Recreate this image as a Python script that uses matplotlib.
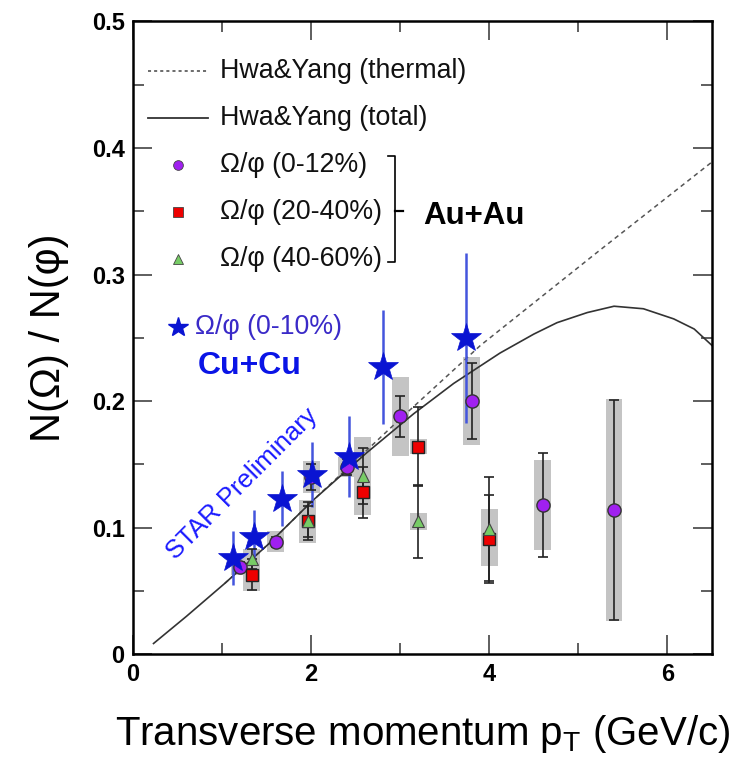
import matplotlib
matplotlib.use("Agg")
import matplotlib.pyplot as plt
from matplotlib.patches import Rectangle

plt.rcParams["font.family"] = ["Liberation Sans", "DejaVu Sans"]

# -------------------------
# Data
# -------------------------
# Au+Au 0-12%
c_x = [1.2, 1.6, 2.0, 2.4, 3.0, 3.8, 4.6, 5.4]
c_y = [0.069, 0.089, 0.140, 0.148, 0.188, 0.200, 0.118, 0.114]
c_stat = [0.004, 0.004, 0.010, 0.006, 0.016, 0.030, 0.041, 0.087]
c_sys = [0.006, 0.008, 0.0125, 0.008, 0.031, 0.035, 0.0355, 0.088]

# Au+Au 20-40%
s_x = [1.33, 1.96, 2.58, 3.2, 4.0]
s_y = [0.063, 0.105, 0.128, 0.164, 0.091]
s_stat = [0.012, 0.015, 0.020, 0.031, 0.035]
s_sys = [0.013, 0.017, 0.018, 0.006, 0.021]

# Au+Au 40-60%
t_x = [1.33, 1.96, 2.58, 3.2, 4.0]
t_y = [0.075, 0.105, 0.141, 0.105, 0.099]
t_stat = [0.008, 0.012, 0.022, 0.029, 0.041]
t_sys = [0.008, 0.015, 0.031, 0.007, 0.016]

# Cu+Cu 0-10%
cu_x = [1.12, 1.36, 1.67, 2.01, 2.42, 2.81, 3.74]
cu_y = [0.076, 0.093, 0.123, 0.142, 0.156, 0.227, 0.250]
cu_err = [0.021, 0.021, 0.022, 0.026, 0.032, 0.045, 0.067]

# Hwa & Yang curves
tot_x = [0.23, 0.6, 1.03, 1.52, 2.01, 2.62, 3.15, 3.6, 4.12, 4.5, 4.76, 5.1, 5.4, 5.73, 6.07, 6.3, 6.5]
tot_y = [0.0085, 0.030, 0.056, 0.087, 0.121, 0.159, 0.190, 0.214, 0.238, 0.253, 0.262, 0.270, 0.275, 0.273, 0.265, 0.257, 0.244]
th_x = [1.03, 1.52, 2.01, 2.5, 3.0, 3.9, 5.2, 6.5]
th_y = [0.056, 0.087, 0.121, 0.153, 0.186, 0.244, 0.317, 0.389]

box_w = 0.19
box_col = "#c4c4c4"

# -------------------------
# Plot
# -------------------------
fig = plt.figure(figsize=(7.31, 7.67), dpi=100)
ax = fig.add_axes([0.182, 0.147, 0.792, 0.825])

for xs, ys, sy in [(c_x, c_y, c_sys), (s_x, s_y, s_sys), (t_x, t_y, t_sys)]:
    for x, y, e in zip(xs, ys, sy):
        ax.add_patch(Rectangle((x - box_w / 2, y - e), box_w, 2 * e,
                               facecolor=box_col, edgecolor="none", zorder=1))

ax.plot(th_x, th_y, color="#555555", lw=1.1, ls=(0, (3, 2.5)), zorder=2)
ax.plot(tot_x, tot_y, color="#333333", lw=1.2, zorder=2)

ax.errorbar(cu_x, cu_y, yerr=cu_err, fmt="none", ecolor="#4455dd", elinewidth=1.8, zorder=3)

for xs, ys, st in [(c_x, c_y, c_stat), (s_x, s_y, s_stat), (t_x, t_y, t_stat)]:
    ax.errorbar(xs, ys, yerr=st, fmt="none", ecolor="#222222", elinewidth=1.2,
                capsize=3.5, capthick=1.2, zorder=3)

ax.plot(c_x, c_y, "o", ms=9.5, mfc="#a020f0", mec="#333333", mew=1, zorder=4)
ax.plot(s_x, s_y, "s", ms=9, mfc="#ee0000", mec="#222222", mew=1, zorder=4)
ax.plot(t_x, t_y, "^", ms=8.5, mfc="#77cc66", mec="#444444", mew=0.8, zorder=4)
ax.plot(cu_x, cu_y, "*", ms=22, mfc="#0a14d2", mec="#0a14d2", mew=0.5, zorder=5)

# -------------------------
# Legend (drawn by hand)
# -------------------------
tA = ax.transAxes
fs = 19.3
ax.plot([0.026, 0.130], [0.922, 0.922], transform=tA, color="#444444", lw=1.1, ls=(0, (2, 2)))
ax.plot([0.026, 0.130], [0.847, 0.847], transform=tA, color="#333333", lw=1.3)
ax.plot([0.078], [0.773], "o", transform=tA, ms=7, mfc="#a020f0", mec="#444444", mew=0.6)
ax.plot([0.078], [0.699], "s", transform=tA, ms=7, mfc="#ee0000", mec="#444444", mew=0.6)
ax.plot([0.078], [0.625], "^", transform=tA, ms=7, mfc="#77cc66", mec="#444444", mew=0.6)
ax.plot([0.078], [0.517], "*", transform=tA, ms=15, mfc="#0a14d2", mec="#0a14d2")

labels = ["Hwa&Yang (thermal)", "Hwa&Yang (total)", "Ω/φ (0-12%)", "Ω/φ (20-40%)", "Ω/φ (40-60%)"]
rows = [0.922, 0.847, 0.773, 0.699, 0.625]
for lab, yy in zip(labels, rows):
    ax.text(0.150, yy, lab, transform=tA, fontsize=fs, va="center", ha="left", color="#111111")
ax.text(0.107, 0.517, "Ω/φ (0-10%)", transform=tA, fontsize=fs, va="center", ha="left", color="#3a2ac8")

# bracket for Au+Au
ax.plot([0.440, 0.453, 0.453, 0.440], [0.787, 0.787, 0.620, 0.620], transform=tA, color="black", lw=1.2)
ax.plot([0.453, 0.466], [0.701, 0.701], transform=tA, color="black", lw=1.6)
ax.text(0.501, 0.692, "Au+Au", transform=tA, fontsize=22.5, fontweight="bold", va="center", ha="left")
ax.text(0.112, 0.455, "Cu+Cu", transform=tA, fontsize=23, fontweight="bold", va="center", ha="left",
        color="#0a14e6")
ax.text(0.188, 0.270, "STAR Preliminary", transform=tA, fontsize=18.5, rotation=45, va="center",
        ha="center", color="#1a1aff")

# -------------------------
# Axes
# -------------------------
ax.set_xlim(0, 6.5)
ax.set_ylim(0, 0.5)
ax.set_xticks([0, 2, 4, 6])
ax.set_xticks([1, 3, 5], minor=True)
ax.set_yticks([0, 0.1, 0.2, 0.3, 0.4, 0.5])
ax.set_yticks([0.05, 0.15, 0.25, 0.35, 0.45], minor=True)
ax.set_xticklabels(["0", "2", "4", "6"])
ax.set_yticklabels(["0", "0.1", "0.2", "0.3", "0.4", "0.5"])
ax.tick_params(which="both", direction="in", top=True, right=True, width=1.1, color="#333333")
ax.tick_params(which="major", length=14, labelsize=17, pad=6)
ax.tick_params(which="minor", length=8)
for lab in ax.get_xticklabels() + ax.get_yticklabels():
    lab.set_fontweight("bold")
for sp in ax.spines.values():
    sp.set_linewidth(1.8)

ax.set_xlabel("Transverse momentum p$_\\mathregular{T}$ (GeV/c)", fontsize=29, labelpad=20)
ax.set_ylabel("N(Ω) / N(φ)", fontsize=30, labelpad=16)

fig.savefig("out.png", dpi=100)
